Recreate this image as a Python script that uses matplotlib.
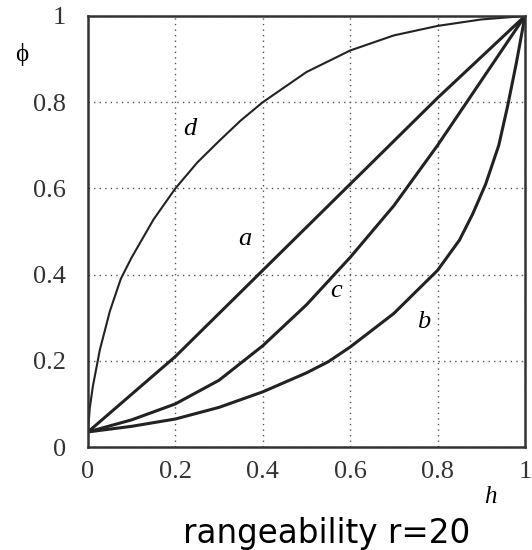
import matplotlib
matplotlib.use("Agg")
import matplotlib.pyplot as plt

# valores (curvas caracteristicas, r = 20)
h_a = [0.0, 0.2, 0.4, 0.6, 0.8, 1.0]
phi_a = [0.035, 0.21, 0.41, 0.61, 0.81, 1.0]

h_b = [0.0, 0.1, 0.2, 0.3, 0.4, 0.5, 0.55, 0.6, 0.7, 0.8, 0.85, 0.88, 0.91, 0.94, 0.96, 0.98, 1.0]
phi_b = [0.035, 0.048, 0.065, 0.092, 0.128, 0.172, 0.198, 0.232, 0.31, 0.41, 0.48, 0.54, 0.61, 0.70, 0.79, 0.89, 1.0]

h_c = [0.0, 0.1, 0.2, 0.3, 0.4, 0.5, 0.6, 0.7, 0.8, 0.9, 1.0]
phi_c = [0.035, 0.063, 0.1, 0.155, 0.235, 0.33, 0.44, 0.56, 0.70, 0.85, 1.0]

h_d = [0.0, 0.004, 0.011, 0.027, 0.05, 0.075, 0.1, 0.15, 0.2, 0.25, 0.3, 0.35, 0.4, 0.5, 0.6, 0.7, 0.8, 0.9, 1.0]
phi_d = [0.035, 0.09, 0.14, 0.225, 0.315, 0.39, 0.44, 0.528, 0.6, 0.66, 0.71, 0.758, 0.8, 0.87, 0.92, 0.955, 0.977, 0.992, 1.0]

ticks = [0, 0.2, 0.4, 0.6, 0.8, 1]
tick_labels = ["0", "0.2", "0.4", "0.6", "0.8", "1"]

serif = ["Liberation Serif", "DejaVu Serif"]

fig = plt.figure(figsize=(5.32, 5.5), dpi=100)
ax = fig.add_axes([88 / 532, 103 / 550, 437 / 532, 431 / 550])

ax.plot(h_a, phi_a, color="#222222", lw=2.2, solid_joinstyle="round")
ax.plot(h_b, phi_b, color="#222222", lw=2.2, solid_joinstyle="round")
ax.plot(h_c, phi_c, color="#222222", lw=2.2, solid_joinstyle="round")
ax.plot(h_d, phi_d, color="#222222", lw=1.5, solid_joinstyle="round")

ax.set_xlim(0, 1)
ax.set_ylim(0, 1)
ax.set_xticks(ticks)
ax.set_yticks(ticks)
ax.set_xticklabels(tick_labels, fontfamily=serif, fontsize=19, color="#333333")
ax.set_yticklabels(tick_labels, fontfamily=serif, fontsize=19, color="#333333")
ax.tick_params(length=0, pad=10)
ax.tick_params(axis="y", pad=16)

ax.grid(True, color="#555555", linestyle=(0, (1, 3)), linewidth=1)
for s in ax.spines.values():
    s.set_linewidth(1.8)
    s.set_color("#333333")

# rotulos das curvas
ax.text(0.36, 0.483, "a", fontfamily=serif, fontstyle="italic", fontsize=19, ha="center", va="center")
ax.text(0.767, 0.29, "b", fontfamily=serif, fontstyle="italic", fontsize=19, ha="center", va="center")
ax.text(0.567, 0.363, "c", fontfamily=serif, fontstyle="italic", fontsize=19, ha="center", va="center")
ax.text(0.233, 0.737, "d", fontfamily=serif, fontstyle="italic", fontsize=19, ha="center", va="center")

fig.text(22 / 532, 1 - 55 / 550, "ϕ", fontfamily=serif, fontsize=18, ha="center", va="center")
fig.text(490 / 532, 1 - 497 / 550, "h", fontfamily=serif, fontstyle="italic", fontsize=18, ha="center", va="center")
fig.text(327 / 532, 1 - 533 / 550, "rangeability r=20", fontfamily="DejaVu Sans", fontsize=23.5, ha="center", va="center")

fig.savefig("out.png", dpi=100)
